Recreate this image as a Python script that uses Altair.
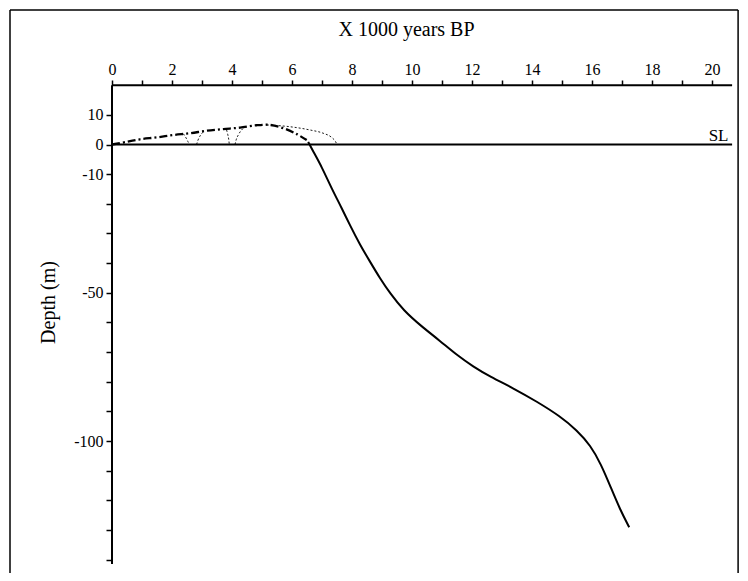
import altair as alt
import pandas as pd

# ---- data ----
main_x = [6.54, 6.71, 6.99, 7.32, 7.66, 7.93, 8.27, 8.6, 8.93, 9.27, 9.72, 10.3, 10.93,
          11.49, 12.04, 12.6, 13.38, 14.16, 14.93, 15.5, 15.95, 16.3, 16.62, 16.93, 17.24]
main_y = [0.9, -2.4, -7.5, -14.8, -21.5, -27.2, -33.9, -39.5, -45.1, -50.2, -56.0, -61.2, -66.2,
          -71.0, -74.9, -78.3, -82.2, -86.7, -91.6, -96.4, -101.5, -107.8, -115.5, -123.0, -129.1]

dash_x = [0.0, 0.49, 0.93, 1.49, 2.04, 2.6, 3.16, 3.71, 4.27, 4.82, 5.27, 5.71, 6.16, 6.49]
dash_y = [0.0, 0.9, 1.75, 2.4, 3.2, 3.8, 4.65, 5.2, 5.7, 6.5, 6.6, 5.5, 3.5, 1.5]

arc1_x = [2.38, 2.47, 2.53, 2.58]
arc1_y = [3.6, 2.2, 1.0, 0.0]
arc2_x = [2.82, 2.86, 2.93, 3.05]
arc2_y = [0.0, 1.3, 2.8, 4.3]
arc3_x = [3.82, 3.86, 3.89, 3.91]
arc3_y = [4.9, 3.3, 1.8, 0.0]
arc4_x = [4.1, 4.14, 4.22, 4.4]
arc4_y = [0.0, 1.6, 3.4, 5.7]
arc5_x = [5.16, 5.93, 6.6, 7.04, 7.32, 7.45, 7.5]
arc5_y = [6.6, 6.0, 4.9, 3.8, 2.4, 1.0, 0.0]

x_ticks = list(range(0, 21))
x_labels = [0, 2, 4, 6, 8, 10, 12, 14, 16, 18, 20]
y_ticks = [10, 0, -10, -20, -30, -40, -50, -60, -70, -80, -90, -100, -110, -120, -130, -140]
y_labels = [10, 0, -10, -50, -100]

x_title = "X 1000 years BP"
y_title = "Depth (m)"
sl_label = "SL"

# axis extents and frame (data units)
x_axis_end = 20.67
y_axis_top = 20
y_axis_bottom = -141.5
frame_left, frame_right, frame_top = -3.4, 20.87, 45.4

X_DOM = [-3.4667, 20.9333]
Y_DOM = [-144.52, 46.04]

# ---- tables ----
main_df = pd.DataFrame({"x": main_x, "y": main_y})
dash_df = pd.DataFrame({"x": dash_x, "y": dash_y})
arcs = []
for i, (ax, ay) in enumerate([(arc1_x, arc1_y), (arc2_x, arc2_y), (arc3_x, arc3_y),
                              (arc4_x, arc4_y), (arc5_x, arc5_y)]):
    arcs.append(pd.DataFrame({"x": ax, "y": ay, "arc": i}))
arc_df = pd.concat(arcs, ignore_index=True)

axis_lines = pd.DataFrame({
    "x": [0, 0, 0], "x2": [x_axis_end, 0, x_axis_end],
    "y": [y_axis_top, y_axis_top, 0], "y2": [y_axis_top, y_axis_bottom, 0],
})
frame_df = pd.DataFrame({
    "x": [frame_left, frame_left, frame_right],
    "x2": [frame_left, frame_right, frame_right],
    "y": [Y_DOM[0], frame_top, Y_DOM[0]],
    "y2": [frame_top, frame_top, frame_top],
})
sl_df = pd.DataFrame({"x": [20.55], "y": [0], "t": [sl_label]})

x_lab_expr = "indexof([" + ",".join(str(v) for v in x_labels) + "], datum.value) >= 0 ? '' + datum.value : ''"
y_lab_expr = "indexof([" + ",".join(str(v) for v in y_labels) + "], datum.value) >= 0 ? '' + datum.value : ''"

xs = alt.Scale(domain=X_DOM, nice=False, zero=False)
ys = alt.Scale(domain=Y_DOM, nice=False, zero=False)

x_axis = alt.Axis(orient="top", offset=-77, domain=False, grid=False, values=x_ticks,
                  labelExpr=x_lab_expr, tickSize=5, tickWidth=1.5, tickColor="black",
                  labelPadding=3, labelColor="black", title=x_title,
                  titleX=398, titleY=-50, titleBaseline="alphabetic", titleAnchor="middle")
y_axis = alt.Axis(orient="left", offset=-104, domain=False, grid=False, values=y_ticks,
                  labelExpr=y_lab_expr, tickSize=6, tickWidth=1.5, tickColor="black",
                  labelPadding=3, labelColor="black", title=y_title,
                  titleX=-58, titleY=294, titleBaseline="alphabetic", titleAngle=-90)

X = alt.X("x:Q", scale=xs, axis=x_axis)
Y = alt.Y("y:Q", scale=ys, axis=y_axis)

main_line = alt.Chart(main_df).mark_line(color="black", strokeWidth=2, interpolate="basis").encode(x=X, y=Y)
dash_line = alt.Chart(dash_df).mark_line(color="black", strokeWidth=2.3, strokeDash=[8, 3, 2, 3],
                                         interpolate="catmull-rom").encode(x=X, y=Y)
arc_lines = alt.Chart(arc_df).mark_line(color="black", strokeWidth=0.9, strokeDash=[2, 2],
                                        interpolate="monotone").encode(x=X, y=Y, detail="arc:N")
axes = alt.Chart(axis_lines).mark_rule(color="black", strokeWidth=2).encode(x=X, x2="x2:Q", y=Y, y2="y2:Q")
frame = alt.Chart(frame_df).mark_rule(color="black", strokeWidth=1.5).encode(x=X, x2="x2:Q", y=Y, y2="y2:Q")
sl_text = alt.Chart(sl_df).mark_text(align="right", baseline="alphabetic", dy=-4, fontSize=17,
                                     font="Liberation Serif", color="black").encode(x=X, y=Y, text="t:N")

chart = alt.layer(frame, axes, arc_lines, dash_line, main_line, sl_text).properties(
    width=732, height=565, autosize="none", padding=0, background="white"
).configure_view(stroke=None).configure_axis(
    labelFont="Liberation Serif", titleFont="Liberation Serif", labelFontSize=16,
    titleFontSize=20, titleFontWeight="normal", titleColor="black"
)

chart.save("out.html", embed_options={"renderer": "svg", "actions": False})
